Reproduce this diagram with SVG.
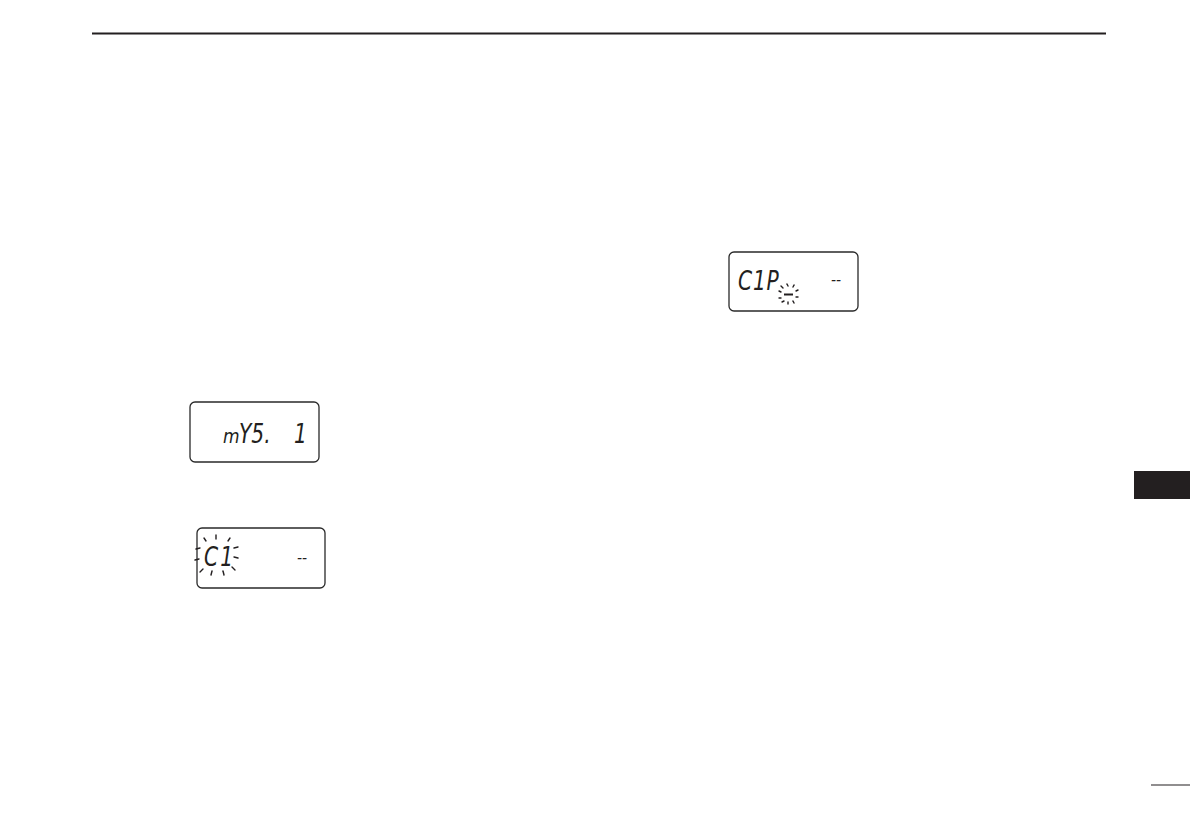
<svg xmlns="http://www.w3.org/2000/svg" width="1190" height="840" viewBox="0 0 1190 840">
<style>
.lcd{fill:#fff;stroke:#2a2a2a;stroke-width:1.3}
.seg{font-family:"DejaVu Sans",sans-serif;font-style:italic;font-weight:300;fill:#231f20}
.ray{stroke:#231f20;stroke-width:1.4;stroke-linecap:round}
</style>
<rect width="1190" height="840" fill="#fff"/>
<line x1="92" y1="33.5" x2="1106" y2="33.5" stroke="#231f20" stroke-width="2"/>
<rect x="1134" y="471" width="56" height="28" fill="#231f20"/>
<line x1="1151" y1="785" x2="1190" y2="785" stroke="#231f20" stroke-width="1.2"/>
<g id="display1">
<rect class="lcd" x="190" y="402" width="129" height="60" rx="5"/>
<text class="seg" x="223" y="443" font-size="20" transform="translate(223 0) scale(0.85 1) translate(-223 0)">m</text>
<text class="seg" x="239" y="443" font-size="27" transform="translate(239 0) scale(0.75 1) translate(-239 0)">Y5.</text>
<text class="seg" x="294" y="443" font-size="27" transform="translate(294 0) scale(0.75 1) translate(-294 0)">1</text>
</g>
<g id="display2">
<rect class="lcd" x="197" y="528" width="128" height="60" rx="5"/>
<text class="seg" x="204" y="566" font-size="27" letter-spacing="3" transform="translate(204 0) scale(0.75 1) translate(-204 0)">C1</text>
<text class="seg" x="297" y="563" font-size="14">--</text>
<g class="ray">
<line x1="196" y1="549" x2="200" y2="548"/>
<line x1="195" y1="560" x2="199" y2="559"/>
<line x1="204" y1="538" x2="206" y2="541"/>
<line x1="216" y1="535" x2="216" y2="539"/>
<line x1="230" y1="538" x2="228" y2="541"/>
<line x1="234" y1="548" x2="238" y2="547"/>
<line x1="234" y1="557" x2="238" y2="558"/>
<line x1="203" y1="569" x2="200" y2="572"/>
<line x1="212" y1="571" x2="211" y2="575"/>
<line x1="223" y1="571" x2="224" y2="575"/>
<line x1="232" y1="567" x2="235" y2="570"/>
</g>
</g>
<g id="display3">
<rect class="lcd" x="729" y="252" width="129" height="59" rx="5"/>
<text class="seg" x="738" y="290" font-size="27" letter-spacing="1" transform="translate(738 0) scale(0.75 1) translate(-738 0)">C1P</text>
<line x1="784" y1="294.5" x2="793" y2="294.5" stroke="#231f20" stroke-width="2"/>
<text class="seg" x="831" y="285" font-size="14">--</text>
<g class="ray">
<line x1="779" y1="291" x2="781" y2="292"/>
<line x1="781" y1="286" x2="783" y2="288"/>
<line x1="787" y1="284" x2="788" y2="286"/>
<line x1="794" y1="285" x2="793" y2="287"/>
<line x1="798" y1="290" x2="796" y2="291"/>
<line x1="798" y1="297" x2="796" y2="297"/>
<line x1="779" y1="298" x2="781" y2="298"/>
<line x1="782" y1="302" x2="784" y2="301"/>
<line x1="788" y1="304" x2="788" y2="302"/>
<line x1="794" y1="303" x2="793" y2="301"/>
</g>
</g>
</svg>
